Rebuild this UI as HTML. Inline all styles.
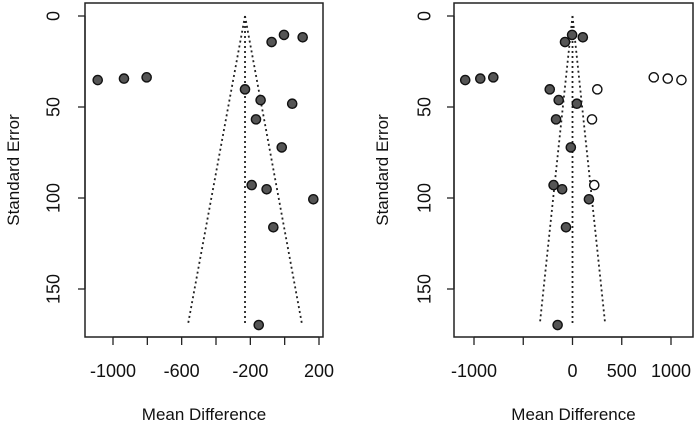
<!DOCTYPE html>
<html><head><meta charset="utf-8"><style>
body{margin:0;background:#fff}
svg{display:block;font-family:"Liberation Sans",Arial,sans-serif}
</style></head><body>
<svg id="chart" width="697" height="425" viewBox="0 0 697 425" xmlns="http://www.w3.org/2000/svg"></svg>
<script>
const meanDiff = [-1089,-936,-804,-231,-140,-167,-76,-4,105,44,-17,-192,-105,167,-66,-151];
const stdErr = [35.2,34.4,33.7,40.3,46.2,56.8,14.3,10.4,11.7,48.2,72.2,92.9,95.2,100.7,116.1,169.8];
const filledMeanDiff = [825,967,1106,252,198,221];
const filledStdErr = [33.7,34.4,35.2,40.3,56.8,92.9];
const leftCenter = -231;
const rightCenter = 0;
const funnelSEMax = 169;
const leftXTicks = [-1000,-800,-600,-400,-200,0,200];
const leftXLabels = ["-1000","","-600","","-200","","200"];
const rightXTicks = [-1000,-500,0,500,1000];
const rightXLabels = ["-1000","","0","500","1000"];
const yTicks = [0,50,100,150];

const NS="http://www.w3.org/2000/svg";
const svg=document.getElementById('chart');
function mk(tag,attrs,parent){const e=document.createElementNS(NS,tag);for(const k in attrs)e.setAttribute(k,attrs[k]);(parent||svg).appendChild(e);return e;}

function panel(opts){
  const g=mk('g',{});
  
  
  const x=v=>opts.x0+(v-opts.xv0)*opts.xs;
  const y=v=>16+v*1.82;
  const box=mk('rect',{x:opts.bx0,y:3,width:opts.bx1-opts.bx0,height:334,fill:'none',stroke:'#222','stroke-width':1.5},g);
  
  
  const ya=mk('g',{},g);
  
  
  mk('line',{x1:opts.bx0,x2:opts.bx0,y1:y(0),y2:y(150),stroke:'#222','stroke-width':1.3},ya);
  yTicks.forEach(t=>{
    mk('line',{x1:opts.bx0,x2:opts.bx0-7,y1:y(t),y2:y(t),stroke:'#222','stroke-width':1.3},ya);
    const lx=opts.bx0-opts.tlOff;
    const tx=mk('text',{x:lx,y:y(t),'font-size':18,'text-anchor':'middle',transform:`rotate(-90 ${lx} ${y(t)})`,dy:'0.35em',fill:'#111'},ya);
    tx.textContent=t;
    
    
  });
  const tlx=opts.bx0-opts.titleOff;
  const yt=mk('text',{x:tlx,y:170,'font-size':17,'text-anchor':'middle',transform:`rotate(-90 ${tlx} 170)`,dy:'0.35em',fill:'#111'},g);
  yt.textContent='Standard Error';
  
  
  const xa=mk('g',{},g);
  
  
  const ticks=opts.ticks;
  mk('line',{x1:x(ticks[0]),x2:x(ticks[ticks.length-1]),y1:337,y2:337,stroke:'#222','stroke-width':1.3},xa);
  ticks.forEach((t,i)=>{
    mk('line',{x1:x(t),x2:x(t),y1:337,y2:345,stroke:'#222','stroke-width':1.3},xa);
    if(opts.labels[i]){
      const tx=mk('text',{x:x(t),y:377,'font-size':18,'text-anchor':'middle',fill:'#111'},xa);
      tx.textContent=opts.labels[i];
      
      
    }
  });
  const xt=mk('text',{x:(opts.bx0+opts.bx1)/2,y:420,'font-size':17,'text-anchor':'middle',fill:'#111'},g);
  xt.textContent='Mean Difference';
  
  
  const c=opts.center, hw=1.96*funnelSEMax;
  const fn=mk('g',{stroke:'#222','stroke-width':1.8,'stroke-dasharray':'2,3',fill:'none'},g);
  
  
  mk('line',{x1:x(c),y1:y(0),x2:x(c-hw),y2:y(funnelSEMax)},fn);
  mk('line',{x1:x(c),y1:y(0),x2:x(c+hw),y2:y(funnelSEMax)},fn);
  mk('line',{x1:x(c),y1:y(0),x2:x(c),y2:y(funnelSEMax)},fn);
  meanDiff.forEach((m,i)=>{
    const p=mk('circle',{cx:x(m),cy:y(stdErr[i]),r:4.6,fill:'#555',stroke:'#111','stroke-width':1.4},g);
    
    
  });
  if(opts.filled){
    filledMeanDiff.forEach((m,i)=>{
      const p=mk('circle',{cx:x(m),cy:y(filledStdErr[i]),r:4.6,fill:'#fff',stroke:'#111','stroke-width':1.4},g);
      
      
    });
  }
}
panel({name:'left-funnel-plot',bx0:85,bx1:323,x0:113,xv0:-1000,xs:206/1200,ticks:leftXTicks,labels:leftXLabels,center:leftCenter,filled:false,tlOff:32,titleOff:72});
panel({name:'right-funnel-plot',bx0:454,bx1:693,x0:474,xv0:-1000,xs:197/2000,ticks:rightXTicks,labels:rightXLabels,center:rightCenter,filled:true,tlOff:30,titleOff:72});
</script>
</body></html>
